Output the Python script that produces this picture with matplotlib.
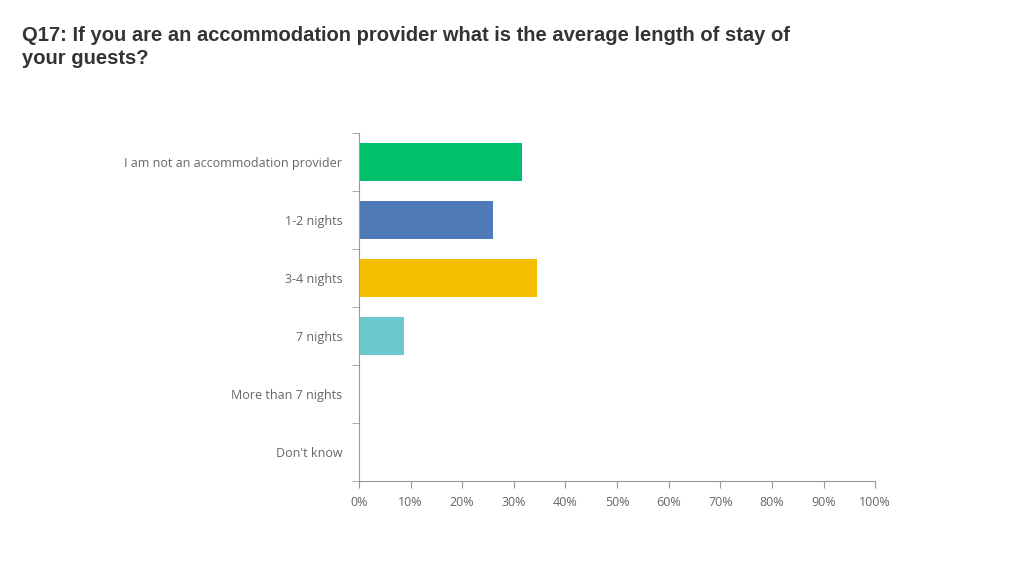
import matplotlib
matplotlib.use("Agg")
import matplotlib.pyplot as plt
from matplotlib.ticker import PercentFormatter

categories = ["I am not an accommodation provider", "1-2 nights", "3-4 nights",
              "7 nights", "More than 7 nights", "Don't know"]
values = [31.6, 26.0, 34.5, 8.7, 0, 0]
colors = ["#00c06b", "#4e7ab8", "#f5be00", "#6cc8cc", "#999999", "#999999"]
xticks = list(range(0, 101, 10))

fig = plt.figure(figsize=(10.24, 5.76), dpi=100)
ax = fig.add_axes([0.3506, 0.165, 0.504, 0.604])
y = list(range(len(categories)))
ax.barh(y, values, height=0.66, color=colors)
ax.set_ylim(len(categories) - 0.5, -0.5)
ax.set_xlim(0, 100)
ax.set_xticks(xticks)
ax.xaxis.set_major_formatter(PercentFormatter(decimals=0))
ax.set_yticks(y)
ax.set_yticklabels(categories)
ax.set_yticks([i - 0.5 for i in range(len(categories) + 1)], minor=True)
for s in ["top", "right"]:
    ax.spines[s].set_visible(False)
for s in ["left", "bottom"]:
    ax.spines[s].set_color("#999999")
ax.tick_params(axis="y", which="major", length=0, pad=12, labelsize=9, labelcolor="#666666")
ax.tick_params(axis="y", which="minor", length=5, color="#999999")
ax.tick_params(axis="x", length=5, color="#999999", labelsize=9, labelcolor="#666666", pad=6)
for t in ax.get_xticklabels() + ax.get_yticklabels():
    t.set_fontfamily("Open Sans")

fig.text(0.0215, 0.955, "Q17: If you are an accommodation provider what is the average length of stay of\nyour guests?",
         fontsize=14.5, fontweight="bold", color="#333333", family="Liberation Sans",
         va="top", ha="left", linespacing=1.3)
fig.savefig("out.png", dpi=100)
